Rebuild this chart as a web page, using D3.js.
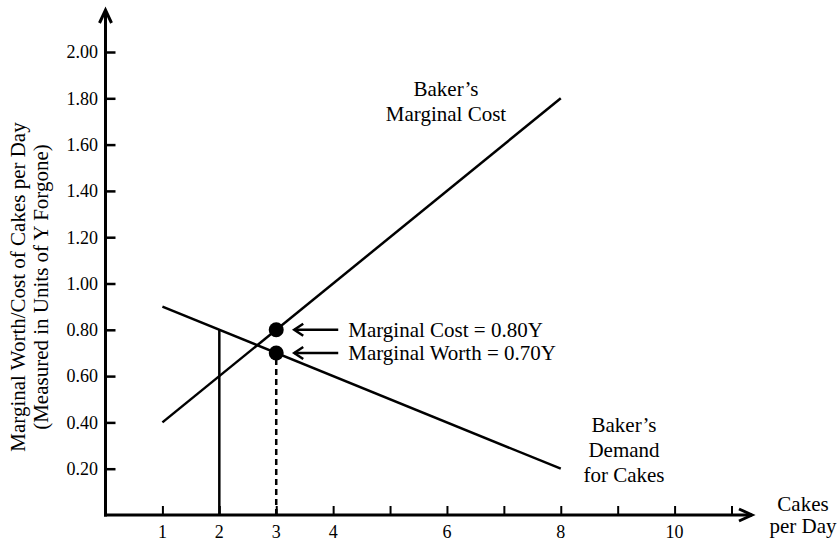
<!DOCTYPE html>
<html>
<head>
<meta charset="utf-8">
<script src="https://cdn.jsdelivr.net/npm/d3@7"></script>
<style>
  html, body { margin: 0; padding: 0; background: #fff; }
  svg { display: block; font-family: "Liberation Serif", "Times New Roman", serif; }
</style>
</head>
<body>
<svg id="chart" width="839" height="541"></svg>
<script>
// Cakes per day (x) and marginal values in units of Y (y)
const marginalCostX = [1, 8];
const marginalCostY = [0.40, 1.80];
const demandX = [1, 8];
const demandY = [0.90, 0.20];
const xTicks = [1, 2, 3, 4, 5, 6, 7, 8, 9, 10, 11];
const xTickLabels = ["1", "2", "3", "4", "", "6", "", "8", "", "10", ""];
const yTicks = [0.20, 0.40, 0.60, 0.80, 1.00, 1.20, 1.40, 1.60, 1.80, 2.00];
const quantityShown = [2, 3];
const pointsX = [3, 3];
const pointsY = [0.80, 0.70];
const pointLabels = ["Marginal Cost = 0.80Y", "Marginal Worth = 0.70Y"];

const svg = d3.select("#chart");
const x = d3.scaleLinear().domain([0, 11]).range([105.5, 731.5]);
const y = d3.scaleLinear().domain([0, 2]).range([515, 52]);

const ink = "#000";
const fs = 21;

// Axes
const yAxis = d3.axisRight(y).tickValues(yTicks).tickSize(10).tickFormat("");
const gy = svg.append("g").attr("transform", `translate(${x(0)},0)`).call(yAxis);
gy.select(".domain").remove();
gy.selectAll("line").attr("stroke", ink).attr("stroke-width", 2.5);

const xAxis = d3.axisTop(x).tickValues(xTicks).tickSize(9).tickFormat("");
const gx = svg.append("g").attr("transform", `translate(0,${y(0)})`).call(xAxis);
gx.select(".domain").remove();
gx.selectAll("line").attr("stroke", ink).attr("stroke-width", 2);

// Axis lines with open arrowheads
svg.append("line").attr("x1", x(0)).attr("x2", x(0)).attr("y1", y(0) + 1.5).attr("y2", 10)
  .attr("stroke", ink).attr("stroke-width", 3);
svg.append("path").attr("d", `M${x(0) - 6},${23} L${x(0)},${10} L${x(0) + 6},${23}`)
  .attr("fill", "none").attr("stroke", ink).attr("stroke-width", 3);
svg.append("line").attr("x1", x(0) - 1.5).attr("x2", 752).attr("y1", y(0)).attr("y2", y(0))
  .attr("stroke", ink).attr("stroke-width", 3);
svg.append("path").attr("d", `M${739},${y(0) - 6} L${752},${y(0)} L${739},${y(0) + 6}`)
  .attr("fill", "none").attr("stroke", ink).attr("stroke-width", 3);

// Tick labels
svg.append("g").selectAll("text").data(yTicks).join("text")
  .attr("x", 98).attr("y", d => y(d)).attr("dy", "0.35em")
  .attr("text-anchor", "end").attr("font-size", 18).text(d => d.toFixed(2));
svg.append("g").selectAll("text").data(xTicks).join("text")
  .attr("x", d => x(d)).attr("y", 538)
  .attr("text-anchor", "middle").attr("font-size", 18).text((d, i) => xTickLabels[i]);

// Y-axis title
const yTitle = svg.append("text").attr("transform", "translate(0,287) rotate(-90)")
  .attr("text-anchor", "middle").attr("font-size", fs);
yTitle.append("tspan").attr("x", 0).attr("y", 25).text("Marginal Worth/Cost of Cakes per Day");
yTitle.append("tspan").attr("x", 0).attr("y", 48).text("(Measured in Units of Y Forgone)");

// X-axis title
const xTitle = svg.append("text").attr("text-anchor", "middle").attr("font-size", fs);
xTitle.append("tspan").attr("x", 803).attr("y", 511).text("Cakes");
xTitle.append("tspan").attr("x", 803).attr("y", 533).text("per Day");

// Curves
const line = d3.line().x(d => x(d[0])).y(d => y(d[1]));
svg.append("path").datum(d3.zip(marginalCostX, marginalCostY)).attr("d", line)
  .attr("fill", "none").attr("stroke", ink).attr("stroke-width", 2.5);
svg.append("path").datum(d3.zip(demandX, demandY)).attr("d", line)
  .attr("fill", "none").attr("stroke", ink).attr("stroke-width", 2.5);

// Vertical guides at the quantities shown
const dAt = q => demandY[0] + (q - demandX[0]) * (demandY[1] - demandY[0]) / (demandX[1] - demandX[0]);
svg.append("line").attr("x1", x(quantityShown[0])).attr("x2", x(quantityShown[0]))
  .attr("y1", y(0)).attr("y2", y(dAt(quantityShown[0])))
  .attr("stroke", ink).attr("stroke-width", 2.5);
svg.append("line").attr("x1", x(quantityShown[1])).attr("x2", x(quantityShown[1]))
  .attr("y1", y(0)).attr("y2", y(dAt(quantityShown[1])))
  .attr("stroke", ink).attr("stroke-width", 2.5).attr("stroke-dasharray", "6,4");

// Points and their labels
svg.append("g").selectAll("circle").data(d3.zip(pointsX, pointsY)).join("circle")
  .attr("cx", d => x(d[0])).attr("cy", d => y(d[1])).attr("r", 7.5).attr("fill", ink);

const arrows = svg.append("g").selectAll("g").data(d3.zip(pointsX, pointsY, pointLabels)).join("g");
arrows.append("line").attr("x1", d => x(d[0]) + 18).attr("x2", d => x(d[0]) + 62)
  .attr("y1", d => y(d[1])).attr("y2", d => y(d[1]))
  .attr("stroke", ink).attr("stroke-width", 2.5);
arrows.append("path")
  .attr("d", d => `M${x(d[0]) + 27},${y(d[1]) - 6} L${x(d[0]) + 18},${y(d[1])} L${x(d[0]) + 27},${y(d[1]) + 6}`)
  .attr("fill", "none").attr("stroke", ink).attr("stroke-width", 2.5);
arrows.append("text").attr("x", d => x(d[0]) + 72).attr("y", d => y(d[1])).attr("dy", "0.33em")
  .attr("font-size", fs).text(d => d[2]);

// Curve captions
const mcLabel = svg.append("text").attr("text-anchor", "middle").attr("font-size", fs);
mcLabel.append("tspan").attr("x", 446).attr("y", 96).text("Baker’s");
mcLabel.append("tspan").attr("x", 446).attr("y", 121).text("Marginal Cost");

const dLabel = svg.append("text").attr("text-anchor", "middle").attr("font-size", fs);
dLabel.append("tspan").attr("x", 624).attr("y", 432).text("Baker’s");
dLabel.append("tspan").attr("x", 624).attr("y", 457).text("Demand");
dLabel.append("tspan").attr("x", 624).attr("y", 482).text("for Cakes");
</script>
</body>
</html>
